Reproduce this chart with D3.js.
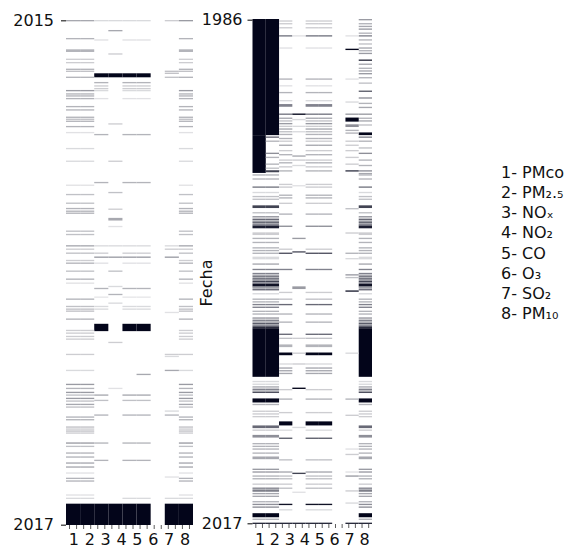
<!DOCTYPE html>
<html lang="es">
<head>
    <meta charset="UTF-8">
    <title>Datos faltantes</title>
    <script src="https://d3js.org/d3.v7.min.js"></script>
</head>
<style>
    html, body {
        margin: 0;
        padding: 0;
        background: #fff;
    }
    text {
        font-family: "DejaVu Sans", sans-serif;
        fill: #111;
    }
</style>
<body>
<svg id="chart" width="570" height="550"></svg>

<script>
    // labels
    var colLabels = ['1', '2', '3', '4', '5', '6', '7', '8']
    var legendItems = ['1- PMco', '2- PM₂.₅', '3- NOₓ', '4- NO₂', '5- CO', '6- O₃', '7- SO₂', '8- PM₁₀']
    var leftYears = ['2015', '2017']
    var rightYears = ['1986', '2017']

    // rows: days (left panel), months (right panel); 9 data columns
    var leftRows = 758
    var rightRows = 374
    var nCols = 9

    // strips of missing data: [row, length, columns, fraction missing]
    var leftStrips = [
        [0, 2, '01', .35], [0, 2, '2345', .15], [0, 2, '7', .2], [0, 2, '8', .4],
        [15, 2, '3', .35], [27, 2, '018', .3], [29, 2, '245', .12], [44, 4, '018', .3],
        [50, 2, '3', .2], [58, 2, '018', .2], [63, 2, '018', .2],
        [73, 2, '018', .3], [76, 2, '018', .25], [76, 2, '7', .25], [79, 2, '7', .25],
        [80, 6, '2345', 1], [85, 2, '018', .3], [85, 2, '7', .25],
        [93, 2, '245', .3], [98, 2, '245', .2], [102, 2, '245', .2], [105, 2, '245', .15],
        [105, 2, '018', .4], [110, 2, '018', .3], [113, 2, '018', .3], [117, 2, '018', .3],
        [117, 2, '245', .12], [129, 2, '018', .3], [134, 2, '018', .3],
        [145, 2, '018', .3], [148, 2, '018', .25], [151, 2, '018', .3],
        [155, 2, '3', .2], [159, 2, '018', .3], [168, 2, '018', .12], [171, 2, '245', .3],
        [192, 2, '018', .15], [211, 2, '018', .15], [211, 2, '3', .2],
        [243, 2, '245', .3], [247, 2, '018', .12], [258, 2, '3', .25], [261, 2, '018', .25],
        [274, 2, '018', .25], [282, 2, '018', .3], [286, 2, '018', .3], [289, 2, '018', .3],
        [283, 2, '3', .2], [297, 4, '3', .35], [309, 2, '3', .12],
        [316, 2, '018', .25], [321, 2, '018', .25],
        [338, 2, '018', .35], [338, 2, '2345', .15], [338, 2, '7', .15],
        [343, 2, '018', .2], [343, 2, '7', .2], [349, 2, '018', .25], [349, 2, '245', .2],
        [355, 2, '2345', .4], [355, 2, '7', .4], [360, 2, '018', .2],
        [364, 2, '018', .3], [364, 2, '245', .12], [376, 2, '018', .25], [376, 2, '3', .25],
        [388, 2, '018', .3], [394, 2, '018', .12], [399, 2, '3', .15], [402, 2, '245', .3],
        [411, 2, '3', .3], [415, 2, '245', .1], [418, 2, '018', .3], [424, 2, '3', .15],
        [429, 2, '018', .25], [433, 2, '018', .25], [436, 2, '018', .25],
        [429, 2, '245', .15], [433, 2, '245', .15], [438, 2, '7', .12], [448, 2, '018', .3],
        [456, 11, '245', 1],
        [465, 2, '018', .2], [469, 2, '018', .2], [474, 2, '018', .2], [478, 2, '018', .2],
        [483, 2, '3', .2], [501, 2, '018', .2], [501, 2, '7', .2], [504, 2, '7', .15],
        [525, 2, '018', .15], [525, 2, '7', .35], [531, 2, '5', .35],
        [546, 2, '018', .4], [552, 2, '018', .3], [552, 2, '3', .12],
        [558, 2, '018', .4], [562, 2, '018', .25], [567, 2, '018', .4], [571, 2, '018', .25],
        [576, 2, '018', .35], [580, 2, '018', .25], [562, 2, '245', .35], [570, 2, '245', .25],
        [586, 2, '7', .15], [592, 2, '245', .3], [592, 2, '7', .3],
        [595, 2, '018', .3], [599, 2, '018', .3],
        [610, 2, '018', .25], [613, 2, '018', .2], [616, 2, '018', .25], [619, 2, '018', .2],
        [634, 2, '018', .4], [634, 2, '245', .3], [639, 2, '018', .25],
        [649, 2, '018', .3], [655, 2, '018', .3], [660, 2, '245', .3],
        [664, 2, '018', .35], [670, 2, '018', .35], [679, 2, '018', .12], [685, 2, '7', .12],
        [687, 2, '018', .3], [691, 2, '018', .3], [712, 2, '018', .12],
        [717, 2, '018', .15], [717, 2, '45', .15], [717, 2, '7', .15],
        [726, 32, '01234578', 1]
    ]

    var rightStrips = [
        // PM columns
        [0, 86, '01', 1], [86, 28, '0', 1],
        [87, 1, '1', .6], [90, 1, '1', .3], [99, 1, '1', .45], [102, 1, '1', .3],
        [107, 1, '1', .3], [110, 1, '1', .25], [112, 1.5, '1', .75],
        [0, 1, '8', .4], [3, 1, '8', .3], [5, 1, '8', .35], [7, 1, '8', .4], [10, 1, '8', .3],
        [12, 1, '8', .5], [15, 1, '8', .3], [18, 1, '8', .25], [21, 1, '8', .35], [23, 1, '8', .3],
        [25, 1, '8', .4], [30, 1, '8', .85], [33, 1, '8', .35], [36, 1, '8', .3], [38, 1, '8', .35],
        [40, 1, '8', .4], [43, 1, '8', .3], [47, 1, '8', .25], [53, 1, '8', .65], [58, 1, '8', .45],
        [62, 1, '8', .3], [65, 1, '8', .35], [70, 1, '8', .4], [73, 1, '8', .3], [75, 1, '8', .35],
        [78, 1, '8', .25], [84, 2, '8', 1], [87, 1, '8', .5], [90, 1, '8', .3], [95, 1, '8', .25],
        [99, 1, '8', .45], [104, 1, '8', .3], [108, 1, '8', .3], [112, 1, '8', .45], [114, 1, '8', .35],
        [115, 1, '018', .3], [118, 1, '018', .3], [124, 1, '018', .55], [128, 1, '018', .15],
        [131, 1, '018', .25], [133, 1, '018', .25], [138, 2, '018', .75], [143, 1, '018', .25],
        [146, 1, '018', .45], [147, 1, '018', .2], [148, 1, '018', .6], [149, 1, '018', .3],
        [150, 1, '018', .7], [151, 1, '018', .35], [152, 1, '018', .6], [153, 2, '018', .9],
        [158, 2, '018', .2], [162, 1, '018', .3],
        [165, 1, '018', .3], [169, 1, '018', .3], [171, 1, '018', .3], [173, 1, '018', .3],
        [176, 2, '018', .15], [181, 1, '018', .35], [185, 1, '018', .5],
        [188, 1, '018', .5], [189, 1, '018', .25], [190, 1, '018', .6], [191, 1, '018', .3],
        [192, 1, '018', .7], [193, 1, '018', .4], [194, 1, '018', .75], [195, 1, '018', .5],
        [196, 2, '018', .95], [198, 1, '018', .6], [199, 1, '018', .3], [200, 1, '018', .6],
        [203, 1, '018', .15], [207, 1, '018', .3],
        [209, 1, '018', .3], [211, 1, '018', .5], [213, 1, '018', .5], [216, 1, '018', .3],
        [218, 1, '018', .3], [221, 1, '018', .45], [222, 1, '018', .2], [223, 1, '018', .55],
        [224, 1, '018', .3], [225, 1, '018', .65], [226, 1, '018', .4], [227, 1, '018', .7],
        [228, 1, '018', .85], [229, 36, '018', 1],
        [268, 1, '018', .15], [270, 1, '018', .15], [272, 1, '018', .35], [273, 1, '018', .2],
        [274, 1, '018', .5], [275, 1, '018', .3], [276, 1, '018', .7], [281, 3, '018', 1],
        [285, 1, '018', .3], [290, 1, '018', .2],
        [292, 1, '018', .2], [294, 1, '018', .2], [301, 2, '018', .6], [304, 1, '018', .2],
        [308, 2, '018', .45], [314, 1, '018', .3], [316, 1, '018', .3], [318, 1, '018', .3],
        [321, 1, '018', .3], [324, 2, '018', .35], [333, 1, '018', .4], [335, 1, '018', .4],
        [338, 1, '018', .3], [340, 1, '018', .3], [344, 1, '018', .2], [347, 1, '018', .5],
        [348, 1, '018', .3], [349, 1, '018', .65], [351, 1, '018', .35], [353, 1, '018', .35],
        [357, 1, '018', .3], [359, 1, '018', .45],
        [361, 1, '018', .45], [366, 3, '018', 1], [370, 1, '018', .3],
        // NOx, NO2, CO
        [1, 1, '245', .2], [3, 1, '245', .2], [6, 1, '245', .2], [12, 1, '245', .55],
        [21, 1, '245', .12], [44, 1, '245', .3], [49, 1, '245', .12], [54, 1, '245', .3],
        [60, 1, '245', .15], [63, 2, '245', .5], [70, 1, '245', .55],
        [73, 1, '245', .35], [75, 1, '245', .25], [77, 1, '245', .4], [79, 1, '245', .2],
        [81, 1, '245', .35], [83, 1, '245', .25], [85, 1, '245', .3],
        [88, 1, '245', .3], [90, 1, '245', .2], [93, 1, '245', .35], [97, 1, '245', .2],
        [100, 1, '245', .3], [104, 1, '245', .2], [106, 1, '245', .3], [109, 1, '245', .2],
        [112, 1, '245', .3], [122, 1, '245', .2], [124, 1, '245', .2], [130, 1, '245', .3],
        [132, 1, '245', .3], [136, 1, '245', .2], [144, 1, '245', .3], [153, 1, '245', .45],
        [170, 1, '245', .2], [173, 1, '245', .7], [185, 1, '245', .5], [202, 1, '245', .2],
        [207, 1, '245', .25], [211, 1, '245', .6], [218, 1, '245', .3], [224, 1, '245', .3],
        [233, 1, '245', .6], [236, 1, '245', .25], [241, 2, '245', .3], [247, 2, '245', 1],
        [255, 1, '245', .15], [258, 1, '245', .35], [260, 1, '245', .35], [262, 1, '245', .35],
        [274, 1, '245', .2], [281, 1, '245', .3], [291, 1, '245', .2], [298, 3, '245', 1],
        [304, 1, '245', .15], [310, 1, '245', .65], [326, 1, '245', .25], [335, 1, '245', .35],
        [338, 1, '245', .25], [340, 1, '245', .25], [344, 1, '245', .2], [347, 1, '245', .25],
        [359, 1, '245', .95], [363, 1, '245', .15],
        // column 4
        [12, 1, '3', .12], [70, 1, '3', 1], [74, 1, '3', .15], [79, 1, '3', .15], [83, 1, '3', .15],
        [101, 1, '3', .35], [104, 1, '3', .2], [108, 1, '3', .15], [123, 1, '3', .12],
        [162, 1, '3', .4], [172, 1, '3', .7], [198, 2, '3', .4], [236, 1, '3', .2],
        [247, 1, '3', .2], [255, 1, '3', .2], [273, 1, '3', 1], [302, 1, '3', .15],
        [336, 1, '3', .75], [350, 1, '3', .12],
        // SO2
        [12, 1, '7', .12], [22, 1, '7', 1], [44, 1, '7', .12], [61, 1, '7', .15], [70, 1, '7', .4],
        [73, 3, '7', 1], [78, 2, '7', .45], [82, 1, '7', .3], [84, 1, '7', .3], [90, 1, '7', .2],
        [93, 1, '7', .2], [97, 1, '7', .2], [102, 1, '7', .2], [107, 1, '7', .2], [112, 1, '7', .8],
        [140, 1, '7', .25], [158, 1, '7', .2], [173, 1, '7', .3], [177, 1, '7', .15],
        [189, 1, '7', .4], [191, 1, '7', .25], [201, 1, '7', .9], [247, 1, '7', .15],
        [281, 1, '7', .3], [293, 1, '7', .2], [318, 1, '7', .12], [322, 1, '7', .2],
        [335, 1, '7', .12], [338, 1, '7', .4], [349, 1, '7', .2], [358, 1, '7', .15],
        // last row
        [373, 1, '01234578', .85]
    ]

    //
    // drawing
    //
    var svg = d3.select('#chart')
    var color = d3.scaleSequential(d3.interpolateRgb('#ffffff', '#03051a')).domain([0, 1])

    function panel(cfg) {
        var x = d3.scaleBand().domain(d3.range(nCols)).range([cfg.x0, cfg.x1])
        var y = d3.scaleLinear().domain([0, cfg.rows]).range([cfg.y0, cfg.y1])
        var g = svg.append('g')

        // expand strips into one rect per column
        var cells = []
        cfg.strips.forEach(function (s) {
            s[2].split('').forEach(function (c) {
                cells.push({row: s[0], len: s[1], col: +c, v: s[3]})
            })
        })

        g.selectAll('rect')
            .data(cells)
            .enter().append('rect')
            .attr('x', function (d) { return x(d.col) })
            .attr('width', x.bandwidth())
            .attr('y', function (d) { return y(d.row) })
            .attr('height', function (d) { return y(d.row + d.len) - y(d.row) })
            .attr('fill', function (d) { return color(d.v) })

        // y axis, first and last row only
        var yAxis = d3.axisLeft(y)
            .tickValues([0.5, cfg.rows - 0.5])
            .tickFormat(function (d, i) { return cfg.years[i] })
            .tickSize(5)
            .tickPadding(cfg.pad)
        var ya = g.append('g')
            .attr('transform', 'translate(' + cfg.x0 + ',0)')
            .call(yAxis)
        ya.select('.domain').remove()
        ya.selectAll('text').style('font-size', '16px').style('font-family', 'DejaVu Sans')

        // small tick marks under each half column
        var sub = d3.scaleBand().domain(d3.range(nCols * 2)).range([cfg.x0, cfg.x1])
        g.selectAll('line.sub')
            .data(d3.range(nCols * 2))
            .enter().append('line')
            .attr('class', 'sub')
            .attr('x1', function (d) { return sub(d) + sub.bandwidth() / 2 })
            .attr('x2', function (d) { return sub(d) + sub.bandwidth() / 2 })
            .attr('y1', cfg.y1)
            .attr('y2', cfg.y1 + 4)
            .attr('stroke', '#333')
            .attr('stroke-width', 0.8)

        // column labels 1..8 spread over the panel
        var xl = d3.scalePoint().domain(colLabels).range([cfg.x0, cfg.x1]).padding(0.5)
        g.selectAll('text.col')
            .data(colLabels)
            .enter().append('text')
            .attr('class', 'col')
            .attr('x', function (d) { return xl(d) })
            .attr('y', 545)
            .attr('text-anchor', 'middle')
            .style('font-size', '16px')
            .text(function (d) { return d })
    }

    panel({x0: 66, x1: 193, y0: 20, y1: 525, rows: leftRows, strips: leftStrips, years: leftYears, pad: 7})
    panel({x0: 252.5, x1: 372, y0: 19, y1: 524, rows: rightRows, strips: rightStrips, years: rightYears, pad: 5})

    svg.append('text')
        .attr('transform', 'translate(212,283) rotate(-90)')
        .attr('text-anchor', 'middle')
        .style('font-size', '16px')
        .text('Fecha')

    var ly = d3.scalePoint().domain(legendItems).range([178, 319])
    svg.selectAll('text.leg')
        .data(legendItems)
        .enter().append('text')
        .attr('class', 'leg')
        .attr('x', 501)
        .attr('y', function (d) { return ly(d) })
        .style('font-size', '16px')
        .text(function (d) { return d })
</script>
</body>
</html>
